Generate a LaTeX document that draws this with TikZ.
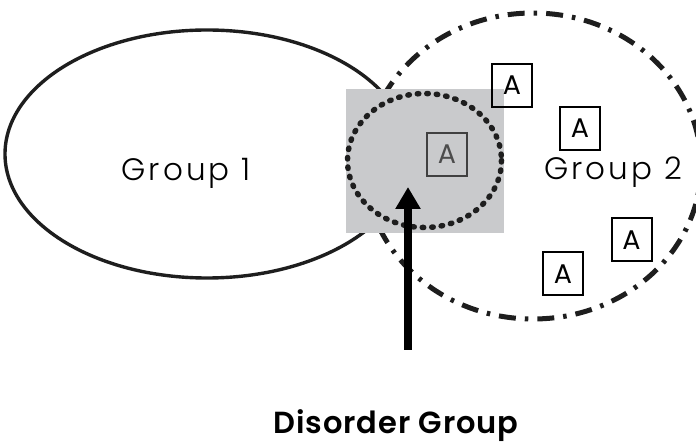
\documentclass[tikz,border=0pt]{standalone}
\usepackage{fontspec}
\setmainfont{Poppins}
\newfontfamily\grouplabelfont[LetterSpace=10]{Poppins Light}
\newfontfamily\titlefont[LetterSpace=3]{Poppins SemiBold}
\newfontfamily\boxletterfont{Poppins}
\usetikzlibrary{arrows.meta}
\definecolor{shade}{HTML}{C9CACC}
\definecolor{ink}{HTML}{1E1E1E}
\tikzset{
  member/.style={draw=black, line width=2pt, minimum width=40pt, minimum height=43pt,
    inner sep=0pt, font=\boxletterfont\fontsize{27}{27}\selectfont},
  faded/.style={member, draw=black!75, text=black!70, line width=1.6pt},
  grouplabel/.style={anchor=base, inner sep=0pt, font=\grouplabelfont\fontsize{31}{34}\selectfont},
}
\begin{document}
\begin{tikzpicture}[x=1pt, y=-1pt]
  \useasboundingbox (0,0) rectangle (696,443);
  \clip (0,0) rectangle (696,443);
  % group 1: plain solid ellipse
  \draw[line width=3.4pt, ink] (207,154) ellipse [x radius=202, y radius=124];
  % group 2: dash-dotted ellipse
  \draw[line width=5pt, ink, dash pattern=on 17pt off 9pt on 3.5pt off 9pt]
    (533,166) ellipse [x radius=168, y radius=153];
  % overlap zone
  \node (zone) [fill=shade, inner sep=0pt, minimum width=158pt, minimum height=144pt] at (425,161) {};
  % disorder group: dotted ring inside the overlap
  \draw[line width=5.5pt, ink, line cap=round, dash pattern=on 1.5pt off 8pt]
    (424.5,160.5) ellipse [x radius=77, y radius=67];
  % labels
  \node (g1) [grouplabel] at (186,181) {Group 1};
  \node (g2) [grouplabel] at (613,180) {Group 2};
  % members
  \node (a0) [faded] at (447,154.5) {A};
  \node (a1) [member, line width=2.6pt] at (512,85.5) {A};
  \node (a2) [member] at (580,128.5) {A};
  \node (a3) [member] at (631.5,240) {A};
  \node (a4) [member] at (563,274) {A};
  % pointer to the disorder group
  \coordinate (tail) at (408,350);
  \coordinate (tip) at (408,187);
  \draw[line width=8pt, -{Triangle[length=22pt, width=24pt]}] (tail) -- (tip);
  \node (title) [anchor=base, inner sep=0pt, font=\titlefont\fontsize{30.5}{34}\selectfont] at (396,433) {Disorder Group};
\end{tikzpicture}
\end{document}
